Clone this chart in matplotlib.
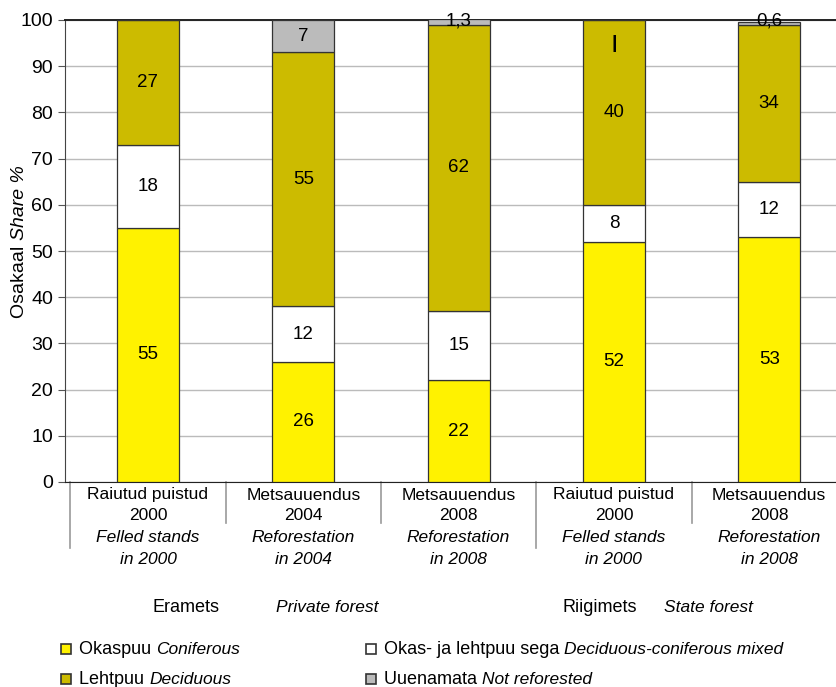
import matplotlib
matplotlib.use("Agg")
import matplotlib.pyplot as plt
from matplotlib.patches import Rectangle
import matplotlib.transforms as mtrans

plt.rcParams['font.family'] = ['Liberation Sans Narrow', 'Liberation Sans', 'DejaVu Sans']

# DATA
cat_et = [("Raiutud puistud", "2000"), ("Metsauuendus", "2004"), ("Metsauuendus", "2008"),
          ("Raiutud puistud", "2000"), ("Metsauuendus", "2008")]
cat_en = [("Felled stands", "in 2000"), ("Reforestation", "in 2004"), ("Reforestation", "in 2008"),
          ("Felled stands", "in 2000"), ("Reforestation", "in 2008")]
coniferous = [55, 26, 22, 52, 53]
mixed = [18, 12, 15, 8, 12]
deciduous = [27, 55, 62, 40, 34]
not_reforested = [0, 7, 1.3, 0, 0.6]
not_ref_labels = ["", "7", "1,3", "|", "0,6"]

series = [
    (coniferous, "#FFF200", "Okaspuu", "Coniferous"),
    (mixed, "#FFFFFF", "Okas- ja lehtpuu sega", "Deciduous-coniferous mixed"),
    (deciduous, "#CCBB00", "Lehtpuu", "Deciduous"),
    (not_reforested, "#BBBBBB", "Uuenamata", "Not reforested"),
]

fig = plt.figure(figsize=(8.36, 6.87), dpi=100)
W, H = 836, 687
ax = fig.add_axes([65 / W, 1 - 482 / H, (836 - 65) / W, 462 / H])

x = list(range(len(cat_et)))
bottom = [0] * len(x)
for vals, col, _, _ in series:
    ax.bar(x, vals, 0.4, bottom=bottom, color=col, edgecolor="#333333", linewidth=0.9, zorder=3)
    for i, v in enumerate(vals):
        if v >= 5 and col != "#BBBBBB":
            ax.text(i, bottom[i] + v / 2, f"{v:g}", ha="center", va="center", fontsize=13.5, zorder=4)
    bottom = [b + v for b, v in zip(bottom, vals)]

# labels of the thin grey segments on top
for i, lab in enumerate(not_ref_labels):
    if lab == "7":
        ax.text(i, 96.5, lab, ha="center", va="center", fontsize=13.5, zorder=4)
    elif lab == "|":
        ax.text(i, 95, lab, ha="center", va="center", fontsize=14, fontweight="bold", zorder=4)
    elif lab:
        ax.text(i, 99.8, lab, ha="center", va="center", fontsize=13.5, zorder=4)

ax.set_ylim(0, 100)
ax.set_xlim(-0.534, 4.43)
ax.set_yticks(range(0, 101, 10))
ax.tick_params(axis="y", labelsize=14, length=5, color="#555555")
ax.tick_params(axis="x", length=0, labelbottom=False)
ax.yaxis.grid(True, color="#BBBBBB", linewidth=1, zorder=0)
ax.spines["right"].set_visible(False)
ax.spines["top"].set_color("#222222")
ax.spines["top"].set_linewidth(1.4)
ax.spines["left"].set_color("#444444")
ax.spines["bottom"].set_color("#222222")

# y label with mixed style
ylab = fig.text(19 / W, 1 - 318 / H, "Osakaal ", rotation=90, ha="center", va="bottom", fontsize=14)
ax.annotate("Share %", xy=(0.5, 1), xycoords=ylab, ha="center", va="bottom",
            rotation=90, fontsize=14, style="italic", annotation_clip=False)

trans = mtrans.blended_transform_factory(ax.transData, ax.transAxes)

# category separators below the axis
for sx, long_line in [(-0.5, True), (0.5, False), (1.5, False), (2.5, True), (3.5, False)]:
    ax.plot([sx, sx], [0, -0.143 if long_line else -0.089], transform=trans,
            color="#999999", linewidth=1.2, clip_on=False)


def ypos(py):
    return (482 - py) / 462


for i in x:
    ax.text(i, ypos(495), cat_et[i][0], transform=trans, ha="center", va="center", fontsize=12.5)
    ax.text(i, ypos(515), cat_et[i][1], transform=trans, ha="center", va="center", fontsize=12.5)
    ax.text(i, ypos(538), cat_en[i][0], transform=trans, ha="center", va="center",
            fontsize=12.5, style="italic")
    ax.text(i, ypos(560), cat_en[i][1], transform=trans, ha="center", va="center",
            fontsize=12.5, style="italic")

# group labels
ax.text(0.244, ypos(608), "Eramets", transform=trans, ha="center", va="center", fontsize=13)
ax.text(0.823, ypos(608), "Private forest", transform=trans, ha="left", va="center",
        fontsize=12.5, style="italic")
ax.text(2.907, ypos(608), "Riigimets", transform=trans, ha="center", va="center", fontsize=13)
ax.text(3.325, ypos(608), "State forest", transform=trans, ha="left", va="center",
        fontsize=12.5, style="italic")

# legend
leg_pos = [(66, 649), (371, 649), (66, 679), (371, 679)]
for (px, py), (_, col, et, en) in zip(leg_pos, series):
    fig.add_artist(Rectangle(((px - 5) / W, 1 - (py + 5) / H), 10 / W, 10 / H,
                             transform=fig.transFigure, facecolor=col,
                             edgecolor="#333333", linewidth=1.2))
    t = fig.text((px + 13) / W, 1 - py / H, et + " ", ha="left", va="center", fontsize=13)
    ax.annotate(en, xy=(1, 0.5), xycoords=t, ha="left", va="center",
                fontsize=12.5, style="italic", annotation_clip=False)

fig.savefig("out.png", dpi=100)
